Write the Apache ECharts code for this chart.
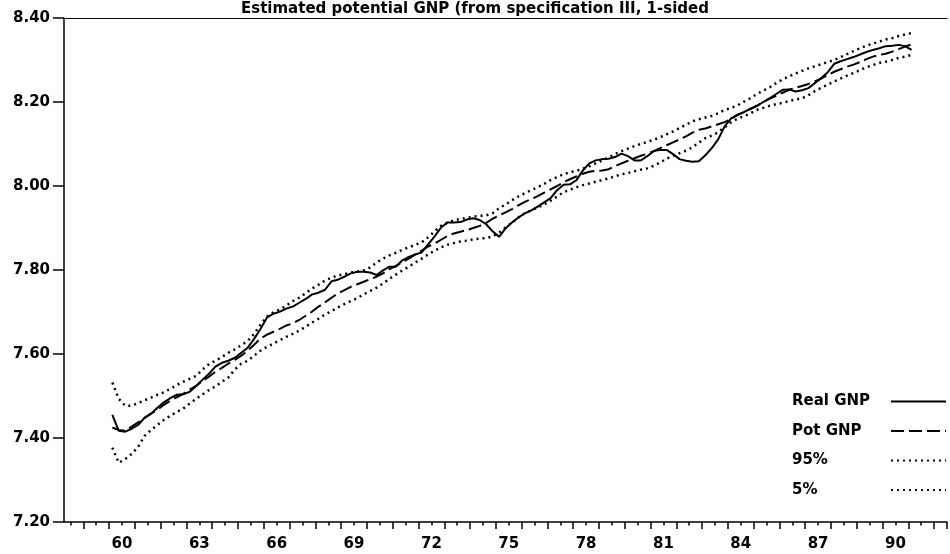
<!DOCTYPE html>
<html>
<head>
<meta charset="utf-8">
<script src="https://cdn.jsdelivr.net/npm/echarts@6/dist/echarts.min.js"></script>
<style>html,body{margin:0;padding:0;background:#fff}#c{width:950px;height:554px}</style>
</head>
<body>
<div id="c"></div>
<script>
// Axis quarters: 1958Q2 .. 1992Q2 ; data quarters: 1960Q1 .. 1991Q1
const axisStart = [1958, 2];
const axisCount = 137;
const dataStart = [1960, 1];
const yTicks = [7.2, 7.4, 7.6, 7.8, 8.0, 8.2, 8.4];
const labelYears = [1960, 1963, 1966, 1969, 1972, 1975, 1978, 1981, 1984, 1987, 1990];

const realGNP = [
7.455,7.417,7.415,7.422,7.431,7.448,7.458,7.472,7.485,7.495,7.503,7.504,7.510,
7.524,7.539,7.553,7.570,7.579,7.584,7.591,7.603,7.615,7.636,7.660,7.687,
7.696,7.701,7.708,7.713,7.722,7.731,7.742,7.746,7.753,7.773,7.777,7.784,
7.792,7.796,7.796,7.794,7.788,7.799,7.808,7.808,7.823,7.831,7.837,7.842,
7.861,7.880,7.901,7.913,7.913,7.914,7.920,7.923,7.919,7.909,7.892,7.879,
7.899,7.913,7.925,7.935,7.942,7.951,7.961,7.971,7.990,8.003,8.004,8.014,
8.037,8.054,8.061,8.064,8.065,8.069,8.077,8.071,8.061,8.061,8.071,8.083,
8.086,8.086,8.076,8.064,8.060,8.058,8.059,8.073,8.090,8.111,8.142,8.161,
8.169,8.176,8.184,8.191,8.200,8.209,8.219,8.229,8.230,8.225,8.228,8.233,
8.245,8.257,8.271,8.291,8.297,8.302,8.307,8.313,8.319,8.324,8.328,8.333,
8.334,8.336,8.333,8.324];

const potGNP = [
7.425,7.419,7.417,7.427,7.437,7.448,7.458,7.467,7.479,7.489,7.497,7.505,7.515,
7.524,7.536,7.546,7.558,7.567,7.577,7.586,7.596,7.608,7.622,7.637,7.646,
7.653,7.660,7.668,7.673,7.681,7.691,7.701,7.713,7.723,7.734,7.744,7.752,
7.760,7.766,7.772,7.778,7.784,7.792,7.802,7.810,7.819,7.827,7.837,7.846,
7.856,7.863,7.872,7.881,7.887,7.891,7.895,7.900,7.905,7.912,7.922,7.930,
7.937,7.945,7.954,7.962,7.969,7.976,7.984,7.992,8.000,8.009,8.016,8.023,
8.029,8.034,8.036,8.037,8.040,8.047,8.054,8.060,8.066,8.072,8.077,8.083,
8.090,8.097,8.104,8.111,8.118,8.127,8.134,8.137,8.142,8.147,8.152,8.160,
8.170,8.176,8.183,8.191,8.200,8.208,8.215,8.222,8.229,8.234,8.238,8.243,
8.249,8.256,8.264,8.272,8.278,8.284,8.289,8.295,8.302,8.308,8.312,8.315,
8.320,8.326,8.332,8.337];

const upper95 = [
7.532,7.493,7.477,7.477,7.483,7.490,7.496,7.503,7.509,7.517,7.526,7.534,7.541,
7.548,7.563,7.576,7.584,7.593,7.603,7.611,7.621,7.631,7.648,7.670,7.689,
7.699,7.706,7.715,7.726,7.734,7.745,7.756,7.765,7.775,7.782,7.787,7.790,
7.794,7.796,7.799,7.806,7.818,7.827,7.835,7.841,7.848,7.854,7.860,7.866,
7.878,7.892,7.905,7.913,7.918,7.922,7.924,7.927,7.929,7.930,7.935,7.947,
7.956,7.966,7.975,7.983,7.990,7.997,8.005,8.014,8.021,8.028,8.033,8.036,
8.041,8.047,8.054,8.061,8.068,8.076,8.083,8.089,8.095,8.100,8.105,8.110,
8.116,8.123,8.130,8.138,8.146,8.154,8.159,8.163,8.167,8.173,8.181,8.186,
8.192,8.201,8.209,8.219,8.227,8.235,8.245,8.254,8.261,8.268,8.274,8.280,
8.285,8.290,8.295,8.300,8.307,8.314,8.321,8.328,8.334,8.339,8.344,8.349,
8.352,8.357,8.361,8.364];

const lower5 = [
7.377,7.341,7.350,7.362,7.379,7.405,7.419,7.431,7.443,7.453,7.462,7.470,7.482,
7.493,7.504,7.514,7.523,7.534,7.544,7.563,7.577,7.584,7.596,7.608,7.617,
7.625,7.633,7.641,7.648,7.656,7.665,7.675,7.684,7.694,7.702,7.711,7.719,
7.726,7.733,7.742,7.750,7.758,7.768,7.779,7.789,7.799,7.808,7.818,7.827,
7.837,7.846,7.854,7.860,7.864,7.868,7.870,7.873,7.875,7.876,7.880,7.889,
7.901,7.913,7.925,7.935,7.942,7.949,7.956,7.965,7.975,7.985,7.991,7.997,
8.002,8.006,8.010,8.014,8.018,8.023,8.028,8.031,8.035,8.039,8.042,8.048,
8.056,8.065,8.072,8.078,8.084,8.092,8.103,8.114,8.120,8.128,8.140,8.152,
8.160,8.166,8.173,8.181,8.186,8.191,8.195,8.198,8.202,8.206,8.209,8.216,
8.226,8.234,8.241,8.249,8.256,8.263,8.269,8.276,8.283,8.288,8.293,8.296,
8.300,8.305,8.308,8.312];

function quarterList(start, n) {
  const out = [];
  let y = start[0], q = start[1];
  for (let i = 0; i < n; i++) {
    out.push(y + 'Q' + q);
    q++; if (q > 4) { q = 1; y++; }
  }
  return out;
}
const axisQuarters = quarterList(axisStart, axisCount);
const dataQuarters = quarterList(dataStart, realGNP.length);
const pairs = arr => arr.map((v, i) => [dataQuarters[i], v]);
const qOf = i => axisQuarters[i] ? +axisQuarters[i].slice(5) : 0;

const FONT = 'DejaVu Sans';
const txt = { color: '#000', fontFamily: FONT, fontWeight: 'bold', fontSize: 15 };

const chart = echarts.init(document.getElementById('c'), null, { renderer: 'canvas' });
chart.setOption({
  animation: false,
  backgroundColor: '#fff',
  title: {
    text: 'Estimated potential GNP (from specification III, 1-sided',
    left: 'center', top: -3,
    textStyle: { color: '#000', fontFamily: FONT, fontWeight: 'bold', fontSize: 15 }
  },
  legend: {
    orient: 'vertical', left: 787, top: 389, align: 'right',
    itemWidth: 55, itemHeight: 14, itemGap: 14.5,
    itemStyle: { opacity: 0 },
    formatter: name => '{a|' + name + '}',
    textStyle: Object.assign({}, txt, {
      rich: { a: Object.assign({}, txt, { width: 94, align: 'left' }) }
    }),
    selectedMode: false,
    data: ['Real GNP', 'Pot GNP', '95%', '5%']
  },
  grid: { left: 64, right: 3, top: 18, bottom: 32 },
  xAxis: [{
    type: 'category', data: axisQuarters, boundaryGap: true,
    axisLine: { lineStyle: { color: '#000', width: 1.5 } },
    axisTick: { show: true, length: 7, lineStyle: { color: '#000', width: 1.5 },
      interval: (i) => qOf(i) === 1 },
    axisLabel: Object.assign({}, txt, {
      margin: 15,
      interval: (i, v) => v.endsWith('Q3') && labelYears.indexOf(+v.slice(0, 4)) >= 0,
      formatter: v => '{a|' + v.slice(2, 4) + '}',
      rich: { a: Object.assign({}, txt, { padding: [0, 6.4, 0, 0] }) }
    }),
    splitLine: { show: false }
  }, {
    type: 'category', data: axisQuarters, boundaryGap: true, position: 'bottom', offset: 0,
    axisLine: { show: false },
    axisTick: { show: true, length: 3.5, lineStyle: { color: '#000', width: 1.5 },
      interval: (i) => qOf(i) === 3 },
    axisLabel: { show: false }, splitLine: { show: false }
  }, {
    type: 'category', data: axisQuarters, boundaryGap: true, position: 'top',
    axisLine: { lineStyle: { color: '#000', width: 1.2 } },
    axisTick: { show: false }, axisLabel: { show: false }, splitLine: { show: false }
  }],
  yAxis: {
    type: 'value', min: yTicks[0], max: yTicks[yTicks.length - 1], interval: 0.2,
    axisLine: { show: true, lineStyle: { color: '#000', width: 1.5 } },
    axisTick: { show: true, length: 11, lineStyle: { color: '#000', width: 1.5 } },
    axisLabel: Object.assign({}, txt, { margin: 14, formatter: v => v.toFixed(2) }),
    splitLine: { show: false }
  },
  series: [
    { name: 'Real GNP', type: 'line', symbol: 'none', data: pairs(realGNP),
      lineStyle: { color: '#000', width: 2 }, itemStyle: { color: '#000' } },
    { name: 'Pot GNP', type: 'line', symbol: 'none', data: pairs(potGNP),
      lineStyle: { color: '#000', width: 2, type: [13, 5] }, itemStyle: { color: '#000' } },
    { name: '95%', type: 'line', symbol: 'none', data: pairs(upper95),
      lineStyle: { color: '#000', width: 2.5, type: [2, 4] }, itemStyle: { color: '#000' } },
    { name: '5%', type: 'line', symbol: 'none', data: pairs(lower5),
      lineStyle: { color: '#000', width: 2.5, type: [2, 4] }, itemStyle: { color: '#000' } }
  ]
});
</script>
</body>
</html>
